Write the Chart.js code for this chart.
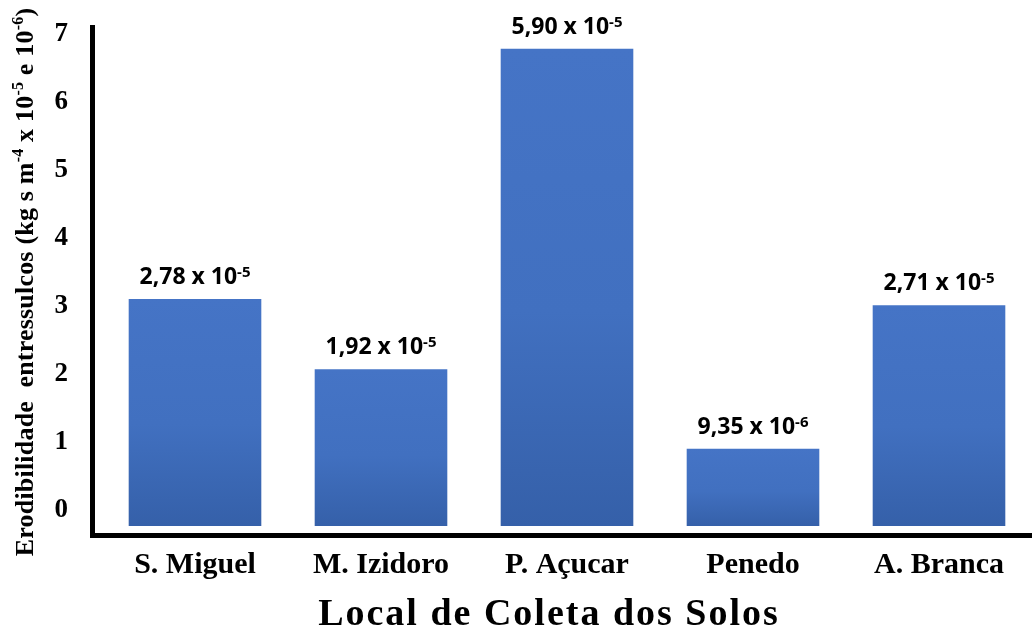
<!DOCTYPE html>
<html>
<head>
<meta charset="utf-8">
<script src="https://cdn.jsdelivr.net/npm/chart.js@4.4.1/dist/chart.umd.min.js"></script>
<style>
  html, body { margin: 0; padding: 0; background: #fff; }
  #wrap { width: 1032px; height: 632px; position: relative; }
</style>
</head>
<body>
<div id="wrap"><canvas id="chart"></canvas></div>
<script>
// Chart data
const locais = ['S. Miguel', 'M. Izidoro', 'P. Açucar', 'Penedo', 'A. Branca'];
const erodibilidade = [3.10, 2.07, 6.78, 0.90, 3.01];
const rotuloMantissa = ['2,78', '1,92', '5,90', '9,35', '2,71'];
const rotuloExpoente = ['-5', '-5', '-5', '-6', '-5'];
const yTicks = [0, 1, 2, 3, 4, 5, 6, 7];

// Axis range (the bars in the figure start a little below the "0" label)
const Y_MIN = -0.368;
const Y_MAX = 7.13;
const BAR_BASE = -0.235;

const SERIF = '"Liberation Serif", "Times New Roman", serif';
const SANS = '"Open Sans", "Noto Sans", sans-serif';

/**
 * Draw a text made of normal and superscript pieces, starting at x
 */
function drawPieces(ctx, pieces, x, y, size, supSize, family, raise) {
    pieces.forEach(p => {
        ctx.font = 'bold ' + (p.sup ? supSize : size) + 'px ' + family;
        ctx.fillText(p.t, x, p.sup ? y - raise : y);
        x += ctx.measureText(p.t).width;
    });
}

function piecesWidth(ctx, pieces, size, supSize, family) {
    let w = 0;
    pieces.forEach(p => {
        ctx.font = 'bold ' + (p.sup ? supSize : size) + 'px ' + family;
        w += ctx.measureText(p.t).width;
    });
    return w;
}

// Axis lines, value labels and titles
const decorPlugin = {
    id: 'decor',
    afterDatasetsDraw(chart) {
        const ctx = chart.ctx;
        const area = chart.chartArea;
        ctx.save();

        // axis lines
        ctx.fillStyle = '#000';
        ctx.fillRect(area.left - 12, area.top, 5, area.bottom - area.top + 3);
        ctx.fillRect(area.left - 12, area.bottom - 2, chart.width - area.left + 12, 5);

        // value labels above bars
        ctx.textAlign = 'left';
        ctx.textBaseline = 'alphabetic';
        chart.getDatasetMeta(0).data.forEach((bar, i) => {
            const pieces = [{ t: rotuloMantissa[i] + ' x 10' }, { t: rotuloExpoente[i], sup: true }];
            const w = piecesWidth(ctx, pieces, 23, 15, SANS);
            drawPieces(ctx, pieces, bar.x - w / 2, bar.y - 15, 23, 15, SANS, 7);
        });

        // x title
        ctx.font = 'bold 38px ' + SERIF;
        ctx.letterSpacing = '2px';
        ctx.textAlign = 'center';
        ctx.fillText('Local de Coleta dos Solos', 549, 625);

        // y title (rotated)
        const yPieces = [
            { t: 'Erodibilidade  entressulcos (kg s m' }, { t: '-4', sup: true },
            { t: ' x 10' }, { t: '-5', sup: true },
            { t: ' e 10' }, { t: '-6', sup: true }, { t: ')' }
        ];
        ctx.letterSpacing = '0.2px';
        ctx.translate(33, 282);
        ctx.rotate(-Math.PI / 2);
        ctx.textAlign = 'left';
        const yw = piecesWidth(ctx, yPieces, 26, 16, SERIF);
        drawPieces(ctx, yPieces, -yw / 2, 0, 26, 16, SERIF, 10);

        ctx.restore();
    }
};

function barGradient(context) {
    const chart = context.chart;
    if (!chart.chartArea) return '#4472C4';
    const yScale = chart.scales.y;
    const top = yScale.getPixelForValue(erodibilidade[context.dataIndex]);
    const bottom = yScale.getPixelForValue(BAR_BASE);
    const g = chart.ctx.createLinearGradient(0, top, 0, bottom);
    g.addColorStop(0, '#4574C6');
    g.addColorStop(0.55, '#4170C0');
    g.addColorStop(1, '#3560A9');
    return g;
}

new Chart(document.getElementById('chart'), {
    type: 'bar',
    data: {
        labels: locais,
        datasets: [{
            data: erodibilidade,
            base: BAR_BASE,
            backgroundColor: barGradient,
            borderWidth: 0,
            barPercentage: 0.713,
            categoryPercentage: 1
        }]
    },
    options: {
        responsive: true,
        maintainAspectRatio: false,
        animation: false,
        layout: { padding: { top: 25, left: 0, right: 0, bottom: 0 } },
        plugins: {
            legend: { display: false },
            tooltip: { enabled: false }
        },
        scales: {
            x: {
                grid: { display: false, drawTicks: false },
                border: { display: false },
                ticks: {
                    color: '#000',
                    padding: 12,
                    maxRotation: 0,
                    autoSkip: false,
                    font: { family: SERIF, size: 30, weight: 'bold' }
                },
                afterFit(scale) {
                    scale.height = 97;
                    scale.paddingLeft = 0;
                    scale.paddingRight = 0;
                }
            },
            y: {
                min: Y_MIN,
                max: Y_MAX,
                grid: { display: false, drawTicks: false },
                border: { display: false },
                afterBuildTicks(scale) {
                    scale.ticks = yTicks.map(v => ({ value: v }));
                },
                ticks: {
                    color: '#000',
                    padding: 34,
                    font: { family: SERIF, size: 27, weight: 'bold' }
                },
                afterFit(scale) {
                    scale.width = 102;
                    scale.paddingTop = 0;
                    scale.paddingBottom = 0;
                }
            }
        }
    },
    plugins: [decorPlugin]
});
</script>
</body>
</html>
